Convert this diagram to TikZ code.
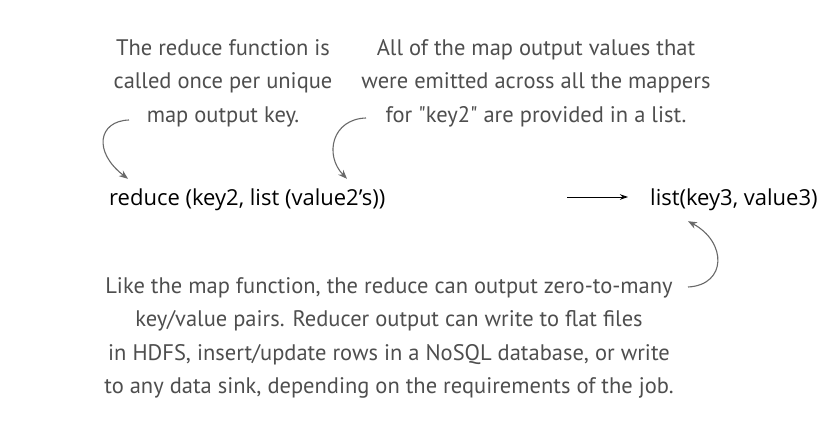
\documentclass[tikz,border=0pt]{standalone}
\usepackage{fontspec}
\setmainfont{Open Sans}
\newfontfamily\notefont{PT Sans}
\usepackage{tikz}
\usetikzlibrary{positioning,arrows.meta}
\definecolor{notecolor}{RGB}{78,78,78}
\definecolor{curvecolor}{RGB}{105,105,105}

\begin{document}
\begin{tikzpicture}[x=1pt,y=-1pt,
call/.style={inner sep=0pt,anchor=west,font=\fontsize{22}{24}\selectfont},
note/.style={inner sep=0pt,align=center,text=notecolor,font=\notefont\fontsize{22.5}{33.5}\selectfont},
curve/.style={-{Stealth[length=9pt,width=7pt]},curvecolor,line width=1.1pt},
arr/.style={-{Stealth[length=8pt,width=5.5pt]},black,line width=0.9pt}]
\useasboundingbox (0,0) rectangle (840,436);
\node[call] (red) at (109,200) {reduce (key2, list (value2's))};
\node[call] (out) at (650,200) {list(key3, value3)};
\coordinate (gapl) at (567,197);
\node[note] (n1) at (223,83) {The reduce function is\\called once per unique\\map output key.};
\node[note] (n2) at (536,83) {All of the map output values that\\were emitted across all the mappers\\for "key2" are provided in a list.};
\node[note] (n3) at (389,338) {Like the map function, the reduce can output zero-to-many\\key/value pairs. Reducer output can write to flat files\\in HDFS, insert/update rows in a NoSQL database, or write\\to any data sink, depending on the requirements of the job.};
\coordinate (s1) at (129,120);
\coordinate (s2) at (366,118);
\coordinate (s3) at (688,287);
\draw[arr] (gapl) -- ([xshift=-22pt,yshift=3pt]out.west);
\draw[curve] (s1) .. controls (98,121) and (93,152) .. ([xshift=19pt,yshift=10pt]red.north west);
\draw[curve] (s2) .. controls (332,119) and (324,155) .. ([xshift=238pt,yshift=10pt]red.north west);
\draw[curve] (s3) .. controls (727,285) and (727,242) .. ([xshift=38pt,yshift=-10pt]out.south west);
\end{tikzpicture}
\end{document}
